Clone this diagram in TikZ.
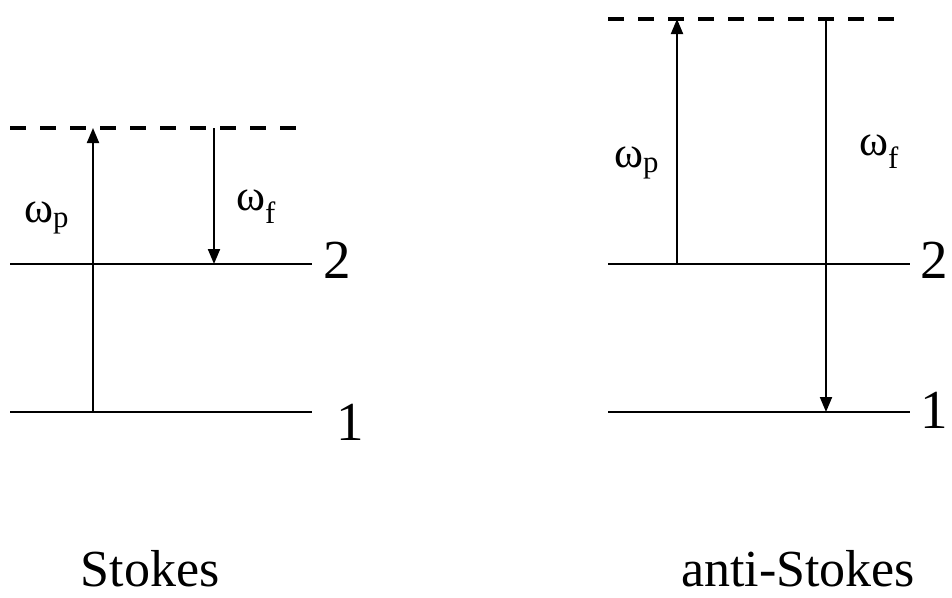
\documentclass[tikz,border=0pt]{standalone}
\usepackage{fontspec}
\setmainfont{Liberation Serif}
\usetikzlibrary{arrows.meta}

\begin{document}
\begin{tikzpicture}[x=1pt, y=-1pt,
    level/.style={line width=2.2pt},
    virtual/.style={line width=3.2pt, dash pattern=on 16pt off 14pt},
    trans/.style={line width=2pt, -{Triangle[length=15pt,width=12pt]}},
    lbl/.style={font=\fontsize{55}{60}\selectfont, inner sep=0pt, anchor=base west},
    title/.style={font=\fontsize{52}{60}\selectfont, inner sep=0pt, anchor=base},
    freq/.style={font=\fontsize{44}{48}\selectfont, inner sep=0pt, anchor=base west}
  ]
  \useasboundingbox (0,0) rectangle (952,597);
  % Stokes
  \coordinate (sv0) at (10,128);   \coordinate (sv1) at (302,128);
  \coordinate (s20) at (10,264);   \coordinate (s21) at (312,264);
  \coordinate (s10) at (10,412);   \coordinate (s11) at (312,412);
  \draw[virtual] (sv0) -- (sv1);
  \draw[level] (s20) -- (s21);
  \draw[level] (s10) -- (s11);
  \draw[trans] (s10 -| 93,0) -- (sv0 -| 93,0);
  \draw[trans] (sv0 -| 214,0) -- (s20 -| 214,0);
  \node[freq] (swp) at (24,222) {ω\textsubscript{p}};
  \node[freq] (swf) at (236,210) {ω\textsubscript{f}};
  \node[lbl] (s2) at (323,278) {2};
  \node[lbl] (s1) at (336,440) {1};
  \node[title] (stokes) at (150,586) {Stokes};
  % anti-Stokes
  \coordinate (av0) at (608,19);   \coordinate (av1) at (900,19);
  \coordinate (a20) at (608,264);  \coordinate (a21) at (910,264);
  \coordinate (a10) at (608,412);  \coordinate (a11) at (910,412);
  \draw[virtual] (av0) -- (av1);
  \draw[level] (a20) -- (a21);
  \draw[level] (a10) -- (a11);
  \draw[trans] (a20 -| 677,0) -- (av0 -| 677,0);
  \draw[trans] (av0 -| 826,0) -- (a10 -| 826,0);
  \node[freq] (awp) at (614,167) {ω\textsubscript{p}};
  \node[freq] (awf) at (859,155) {ω\textsubscript{f}};
  \node[lbl] (a2) at (920,278) {2};
  \node[lbl] (a1) at (920,428) {1};
  \node[title] (antistokes) at (798,586) {anti-Stokes};
\end{tikzpicture}
\end{document}
